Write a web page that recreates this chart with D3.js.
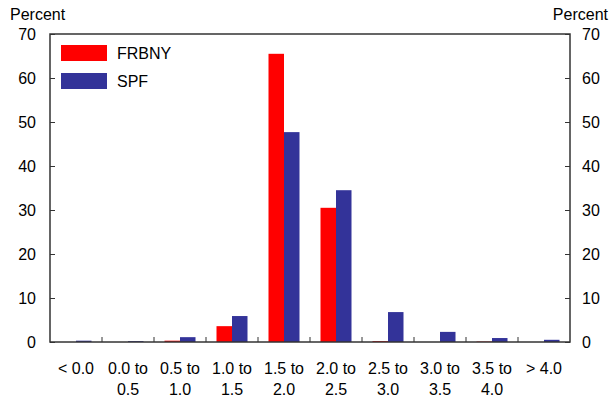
<!DOCTYPE html>
<html><head><meta charset="utf-8">
<script src="https://cdn.jsdelivr.net/npm/d3@7"></script>
<style>body{margin:0;background:#fff;}svg{display:block;font-family:"Liberation Sans",Arial,sans-serif;}</style>
</head><body>
<svg id="c" width="610" height="402"></svg>
<script>
const categories = ["< 0.0","0.0 to 0.5","0.5 to 1.0","1.0 to 1.5","1.5 to 2.0","2.0 to 2.5","2.5 to 3.0","3.0 to 3.5","3.5 to 4.0","> 4.0"];
const labelLine1 = ["< 0.0","0.0 to","0.5 to","1.0 to","1.5 to","2.0 to","2.5 to","3.0 to","3.5 to","> 4.0"];
const labelLine2 = ["","0.5","1.0","1.5","2.0","2.5","3.0","3.5","4.0",""];
const frbny = [0.0, 0.0, 0.3, 3.6, 65.5, 30.5, 0.2, 0.0, 0.1, 0.0];
const spf = [0.3, 0.2, 1.1, 5.9, 47.7, 34.5, 6.8, 2.3, 0.9, 0.5];
const seriesNames = ["FRBNY","SPF"];
const colors = ["#ff0000","#333399"];
const yTicks = [0,10,20,30,40,50,60,70];

const svg = d3.select("#c");
const L = 50, R = 570, T = 34, B = 342;
const x = d3.scaleBand().domain(categories).range([L, R]).paddingInner(0).paddingOuter(0);
const y = d3.scaleLinear().domain([0,70]).range([B, T]);
const bw = 15.5;
const fs = 16;

// bars
const series = [frbny, spf];
series.forEach((vals, si) => {
  svg.append("g").selectAll("rect").data(vals).join("rect")
    .attr("x", (d,i) => x(categories[i]) + x.bandwidth()/2 - bw + si*bw)
    .attr("width", bw)
    .attr("y", d => y(d))
    .attr("height", d => B - y(d))
    .attr("fill", colors[si]);
});

// frame
const axisColor = "#333";
svg.append("rect").attr("x", L).attr("y", T).attr("width", R-L).attr("height", B-T)
  .attr("fill","none").attr("stroke", axisColor).attr("stroke-width", 1.5);

// left axis
const yl = svg.append("g").attr("transform", `translate(${L},0)`)
  .call(d3.axisRight(y).tickValues(yTicks).tickSize(5).tickFormat(""));
yl.select(".domain").remove();
yl.selectAll("line").attr("stroke", axisColor);
svg.append("g").selectAll("text").data(yTicks).join("text")
  .attr("x", 36).attr("y", d => y(d)).attr("dy","0.35em").attr("text-anchor","end")
  .attr("font-size", fs).attr("fill","#000").text(d => d);
// right axis
const yr = svg.append("g").attr("transform", `translate(${R},0)`)
  .call(d3.axisLeft(y).tickValues(yTicks).tickSize(5).tickFormat(""));
yr.select(".domain").remove();
yr.selectAll("line").attr("stroke", axisColor);
svg.append("g").selectAll("text").data(yTicks).join("text")
  .attr("x", 582).attr("y", d => y(d)).attr("dy","0.35em").attr("text-anchor","start")
  .attr("font-size", fs).attr("fill","#000").text(d => d);

// x ticks at band boundaries
const bounds = categories.slice(1).map(c => x(c));
svg.append("g").selectAll("line").data(bounds).join("line")
  .attr("x1", d => d).attr("x2", d => d).attr("y1", B).attr("y2", B-5)
  .attr("stroke", axisColor);

// x labels
const xl = svg.append("g");
categories.forEach((c,i) => {
  const cx = x(c) + x.bandwidth()/2;
  xl.append("text").attr("x", cx).attr("y", 374).attr("text-anchor","middle")
    .attr("font-size", fs).text(labelLine1[i]);
  if (labelLine2[i]) xl.append("text").attr("x", cx).attr("y", 395).attr("text-anchor","middle")
    .attr("font-size", fs).text(labelLine2[i]);
});

// Percent labels
svg.append("text").attr("x", 10).attr("y", 20).attr("font-size", fs).text("Percent");
svg.append("text").attr("x", 608).attr("y", 20).attr("font-size", fs).attr("text-anchor","end").text("Percent");

// legend
seriesNames.forEach((n,i) => {
  svg.append("rect").attr("x", 61).attr("y", 45 + i*28).attr("width", 46).attr("height", 16).attr("fill", colors[i]);
  svg.append("text").attr("x", 117).attr("y", 53 + i*28).attr("dy","0.35em").attr("font-size", fs).text(n);
});
</script>
</body></html>
